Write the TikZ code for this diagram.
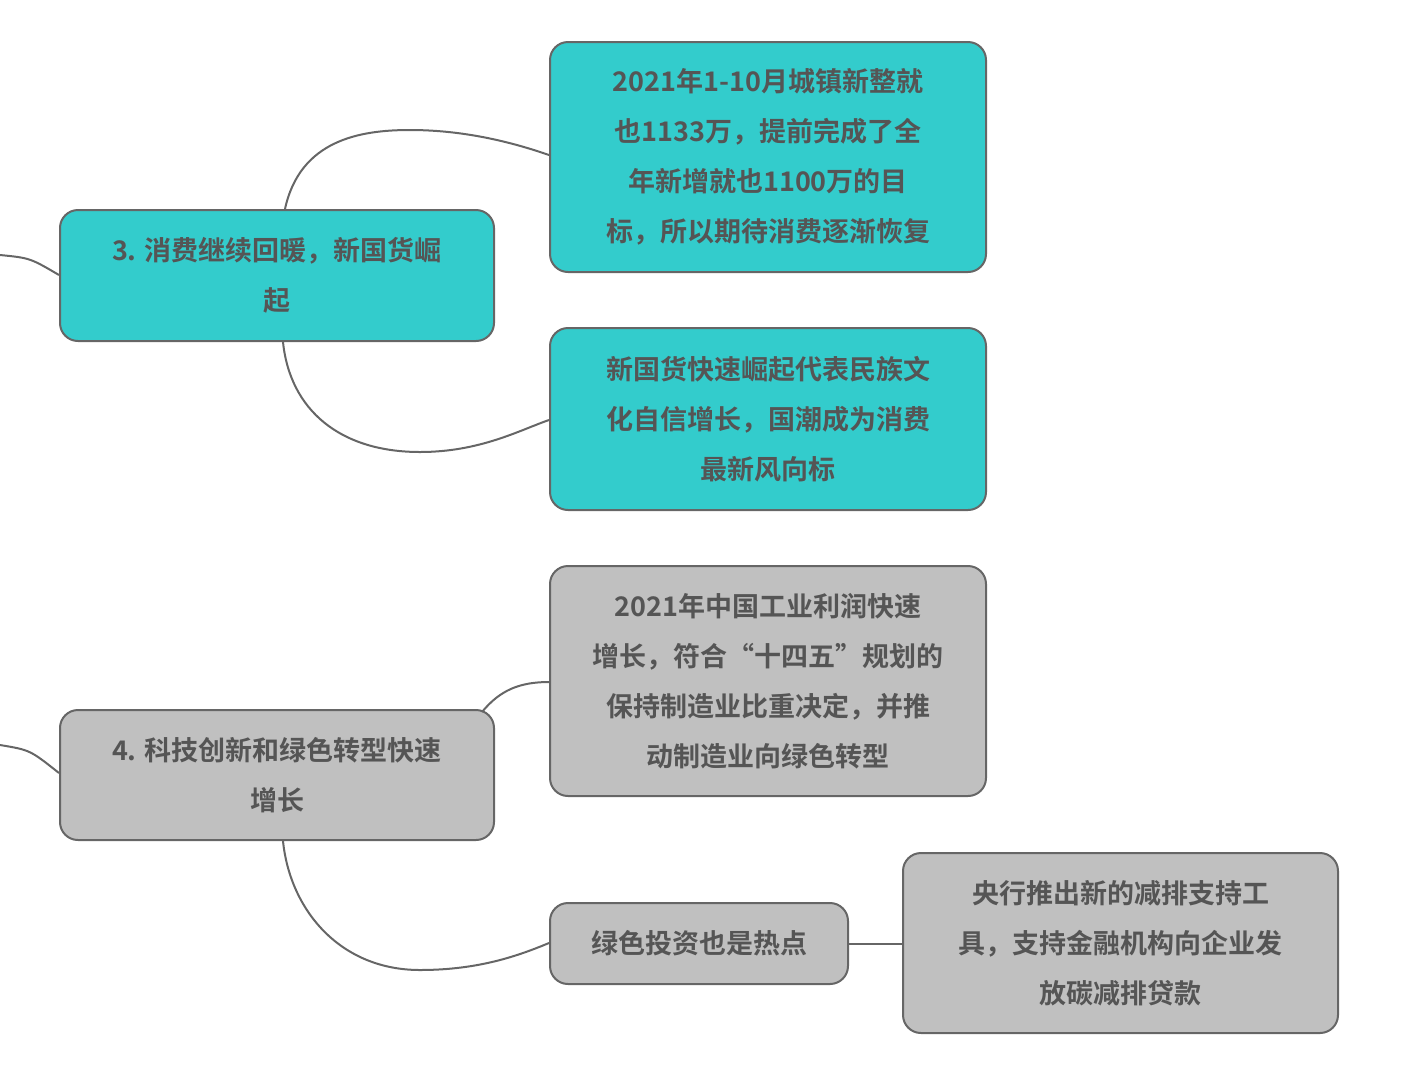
\documentclass[tikz,border=0pt]{standalone}
\usepackage{fontspec}
\newfontfamily\cjk{Noto Sans CJK SC}[BoldFont={* Bold}]
\definecolor{teal1}{HTML}{33CCCC}
\definecolor{gray1}{HTML}{C0C0C0}
\definecolor{edge}{HTML}{666666}
\definecolor{txt}{HTML}{555555}
\begin{document}
\begin{tikzpicture}[x=1pt,y=-1pt,
 box/.style={draw=edge,line width=2pt,rounded corners=18pt,text=txt,align=center,
   font=\cjk\bfseries\fontsize{27}{50}\selectfont},
 tb/.style={box,fill=teal1},
 gb/.style={box,fill=gray1},
 con/.style={draw=edge,line width=2pt}]
\useasboundingbox (0,0) rectangle (1418,1072);
\node[tb,minimum width=434,minimum height=131] (A) at (277,275.5) {3. 消费继续回暖，新国货崛\\起};
\node[tb,minimum width=436,minimum height=230] (B) at (768,157) {2021年1-10月城镇新整就\\也1133万，提前完成了全\\年新增就也1100万的目\\标，所以期待消费逐渐恢复};
\node[tb,minimum width=436,minimum height=182] (C) at (768,419) {新国货快速崛起代表民族文\\化自信增长，国潮成为消费\\最新风向标};
\node[gb,minimum width=434,minimum height=130] (D) at (277,775) {4. 科技创新和绿色转型快速\\增长};
\node[gb,minimum width=436,minimum height=230] (E) at (768,681) {2021年中国工业利润快速\\增长，符合“十四五”规划的\\保持制造业比重决定，并推\\动制造业向绿色转型};
\node[gb,minimum width=298,minimum height=81] (F) at (699,943.5) {绿色投资也是热点};
\node[gb,minimum width=435,minimum height=180] (G) at (1120.5,943) {央行推出新的减排支持工\\具，支持金融机构向企业发\\放碳减排贷款};
\coordinate (L1) at (0,255);
\coordinate (L2) at (0,745);
\draw[con] (L1) .. controls (30,258) .. (A.west|-0,275);
\draw[con] (L2) .. controls (30,750) .. (D.west|-0,773);
\draw[con] (285,209) .. controls (300,140) and (360,130) .. (410,130) .. controls (470,130) and (520,145) .. (B.west|-0,155);
\draw[con] (283,342) .. controls (290,410) and (340,452) .. (420,452) .. controls (480,452) and (520,430) .. (C.west|-0,420);
\draw[con] (482,712) .. controls (500,690) and (520,682) .. (E.west|-0,682);
\draw[con] (283,841) .. controls (290,910) and (340,970) .. (420,970) .. controls (480,970) and (520,955) .. (F.west|-0,943);
\draw[con] (F.east) -- (G.west|-F.east);
\end{tikzpicture}
\end{document}
